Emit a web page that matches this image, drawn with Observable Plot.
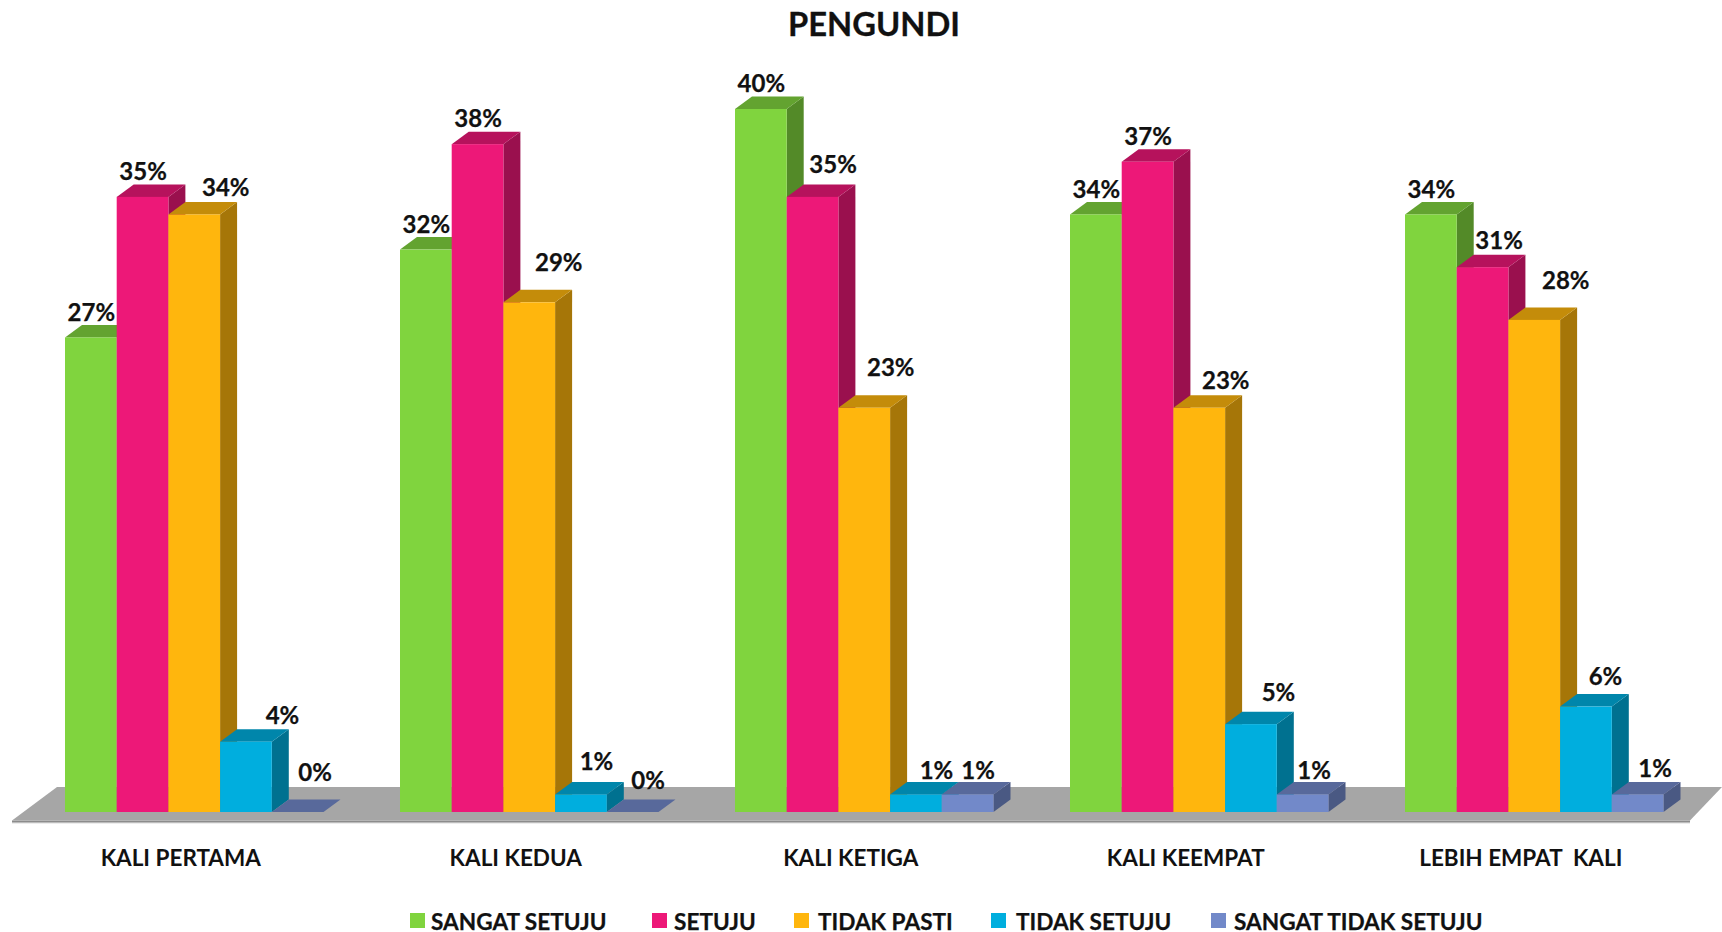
<!DOCTYPE html>
<html>
<head>
<meta charset="utf-8">
<script src="https://cdn.jsdelivr.net/npm/d3@7"></script>
<script src="https://cdn.jsdelivr.net/npm/@observablehq/plot@0.6"></script>
<style>
  html, body { margin: 0; padding: 0; background: #fff; overflow: hidden; }
  body { font-family: Lato, "Open Sans", sans-serif; color: #111; width: 1722px; height: 932px; }
  #title { height: 48px; line-height: 48px; text-align: center; font-weight: 700; font-size: 32.7px; margin-left: 26px; -webkit-text-stroke: 0.3px #111; }
  #chart svg { display: block; }
  #legend { position: relative; height: 37px; font-weight: 700; font-size: 22.6px; -webkit-text-stroke: 0.25px #111; }
  #legend .sw { position: absolute; top: 18px; width: 15px; height: 15px; }
  #legend .tx { position: absolute; top: 13px; line-height: 27px; white-space: pre; }
</style>
</head>
<body>
<div id="title">PENGUNDI</div>
<div id="chart"></div>
<div id="legend"></div>
<script>
const categories = ["KALI PERTAMA", "KALI KEDUA", "KALI KETIGA", "KALI KEEMPAT", "LEBIH EMPAT\u00a0 KALI"];
const seriesNames = ["SANGAT SETUJU", "SETUJU", "TIDAK PASTI", "TIDAK SETUJU", "SANGAT TIDAK SETUJU"];
const sangatSetuju = [27, 32, 40, 34, 34];
const setuju = [35, 38, 35, 37, 31];
const tidakPasti = [34, 29, 23, 23, 28];
const tidakSetuju = [4, 1, 1, 5, 6];
const sangatTidakSetuju = [0, 0, 1, 1, 1];
const seriesValues = [sangatSetuju, setuju, tidakPasti, tidakSetuju, sangatTidakSetuju];
const seriesColors = ["#80D43E", "#ED1878", "#FFB60D", "#00AEDE", "#7289C9"];

// hand-placed data-label nudges of the original (px; per category, per series)
const labelDx = [[0, 0, 31, 36, 17], [0, 0, 29, 15, 15], [0, 20, 26, 20, 10], [0, 0, 26, 27, 11], [0, 16, 31, 19, 17]];
const labelDy = [[-25, -25, -27, -26, -39], [-25, -25, -40, -33, -31], [-25, -32, -40, -24, -24], [-25, -25, -27, -31, -24], [-25, -26, -39, -30, -26]];

const rows = categories.flatMap((category, c) =>
  seriesNames.map((series, s) => ({category, series, value: seriesValues[s][c], c, s})));

const depthX = 17, depthY = 12.5;
const shade = (fill, k) => { const o = d3.rgb(fill); return d3.rgb(o.r * k, o.g * k, o.b * k).formatHex(); };
const NS = "http://www.w3.org/2000/svg";
const poly = (pts, fill) => {
  const p = document.createElementNS(NS, "polygon");
  p.setAttribute("points", pts.map(d => d.join(",")).join(" "));
  p.setAttribute("fill", fill);
  return p;
};

// Extrude every bar that Plot drew into a cuboid (side and top faces behind the front rect).
function extrude(index, scales, values, dimensions, context, next) {
  const g = next(index, scales, values, dimensions, context);
  g.querySelectorAll("rect").forEach(r => {
    const x = +r.getAttribute("x"), y = +r.getAttribute("y");
    const w = +r.getAttribute("width"), h = +r.getAttribute("height");
    const fill = r.getAttribute("fill");
    r.parentNode.insertBefore(poly([[x + w, y], [x + w + depthX, y - depthY], [x + w + depthX, y + h - depthY], [x + w, y + h]], shade(fill, 0.65)), r);
    r.parentNode.insertBefore(poly([[x, y], [x + depthX, y - depthY], [x + w + depthX, y - depthY], [x + w, y]], shade(fill, 0.77)), r);
  });
  return g;
}

// Grey floor under the bars, anchored on the y scale's zero.
function floor(index, {y}, values, {width, marginLeft}) {
  const y0 = y(0);
  const g = document.createElementNS(NS, "g");
  g.appendChild(poly([[marginLeft - 53, y0 + 10.5], [width - 32, y0 + 10.5], [width - 32, y0 + 11.5], [marginLeft - 53, y0 + 11.5]], "#dcdcdc"));
  g.appendChild(poly([[marginLeft - 53, y0 + 8.5], [width - 32, y0 + 8.5], [width - 32, y0 + 10.5], [marginLeft - 53, y0 + 10.5]], "#8c8c8c"));
  g.appendChild(poly([[marginLeft - 53, y0 + 8.5], [width - 32, y0 + 8.5], [width, y0 - 25], [marginLeft - 8, y0 - 25]], "#A6A6A6"));
  return g;
}

function nudge(index, scales, values, dimensions, context, next) {
  const g = next(index, scales, values, dimensions, context);
  g.querySelectorAll("text").forEach((t, j) => {
    const d = rows[index[j]];
    t.setAttribute("dx", labelDx[d.c][d.s]);
    t.setAttribute("dy", labelDy[d.c][d.s]);
  });
  return g;
}

const chart = Plot.plot({
  width: 1722,
  height: 847,
  marginLeft: 65,
  marginRight: 58.5,
  marginTop: 61,
  marginBottom: 83,
  style: {background: "#fff", fontFamily: "Lato, sans-serif", overflow: "visible"},
  fx: {domain: categories, paddingInner: 0.2284, paddingOuter: 0, round: false, axis: null, label: null},
  x: {domain: seriesNames, padding: 0, round: false, axis: null, label: null},
  y: {domain: [0, 40], axis: null, label: null},
  color: {domain: seriesNames, range: seriesColors},
  marks: [
    Plot.frame({facet: "super", render: floor}),
    Plot.barY(rows, {fx: "category", x: "series", y: "value", fill: "series", render: extrude}),
    Plot.text(rows, {
      fx: "category", x: "series", y: "value", text: d => `${d.value}%`,
      fontSize: 24, fontWeight: 700, fill: "#111", stroke: "#111", strokeWidth: 0.25, lineAnchor: "middle", render: nudge
    }),
    Plot.axisFx({anchor: "bottom", label: null, tickSize: 0, tickPadding: 38, dx: -14, fontSize: 22.5, fontWeight: 700, fill: "#111", stroke: "#111", strokeWidth: 0.25})
  ]
});
document.getElementById("chart").appendChild(chart);

const legend = d3.select("#legend");
const swatchLeft = [410, 652, 794, 991, 1211];
const textLeft = [431, 674, 818, 1016, 1234];
seriesNames.forEach((name, i) => {
  legend.append("div").attr("class", "sw").style("left", swatchLeft[i] + "px").style("background", seriesColors[i]);
  legend.append("div").attr("class", "tx").style("left", textLeft[i] + "px").text(name);
});
</script>
</body>
</html>
